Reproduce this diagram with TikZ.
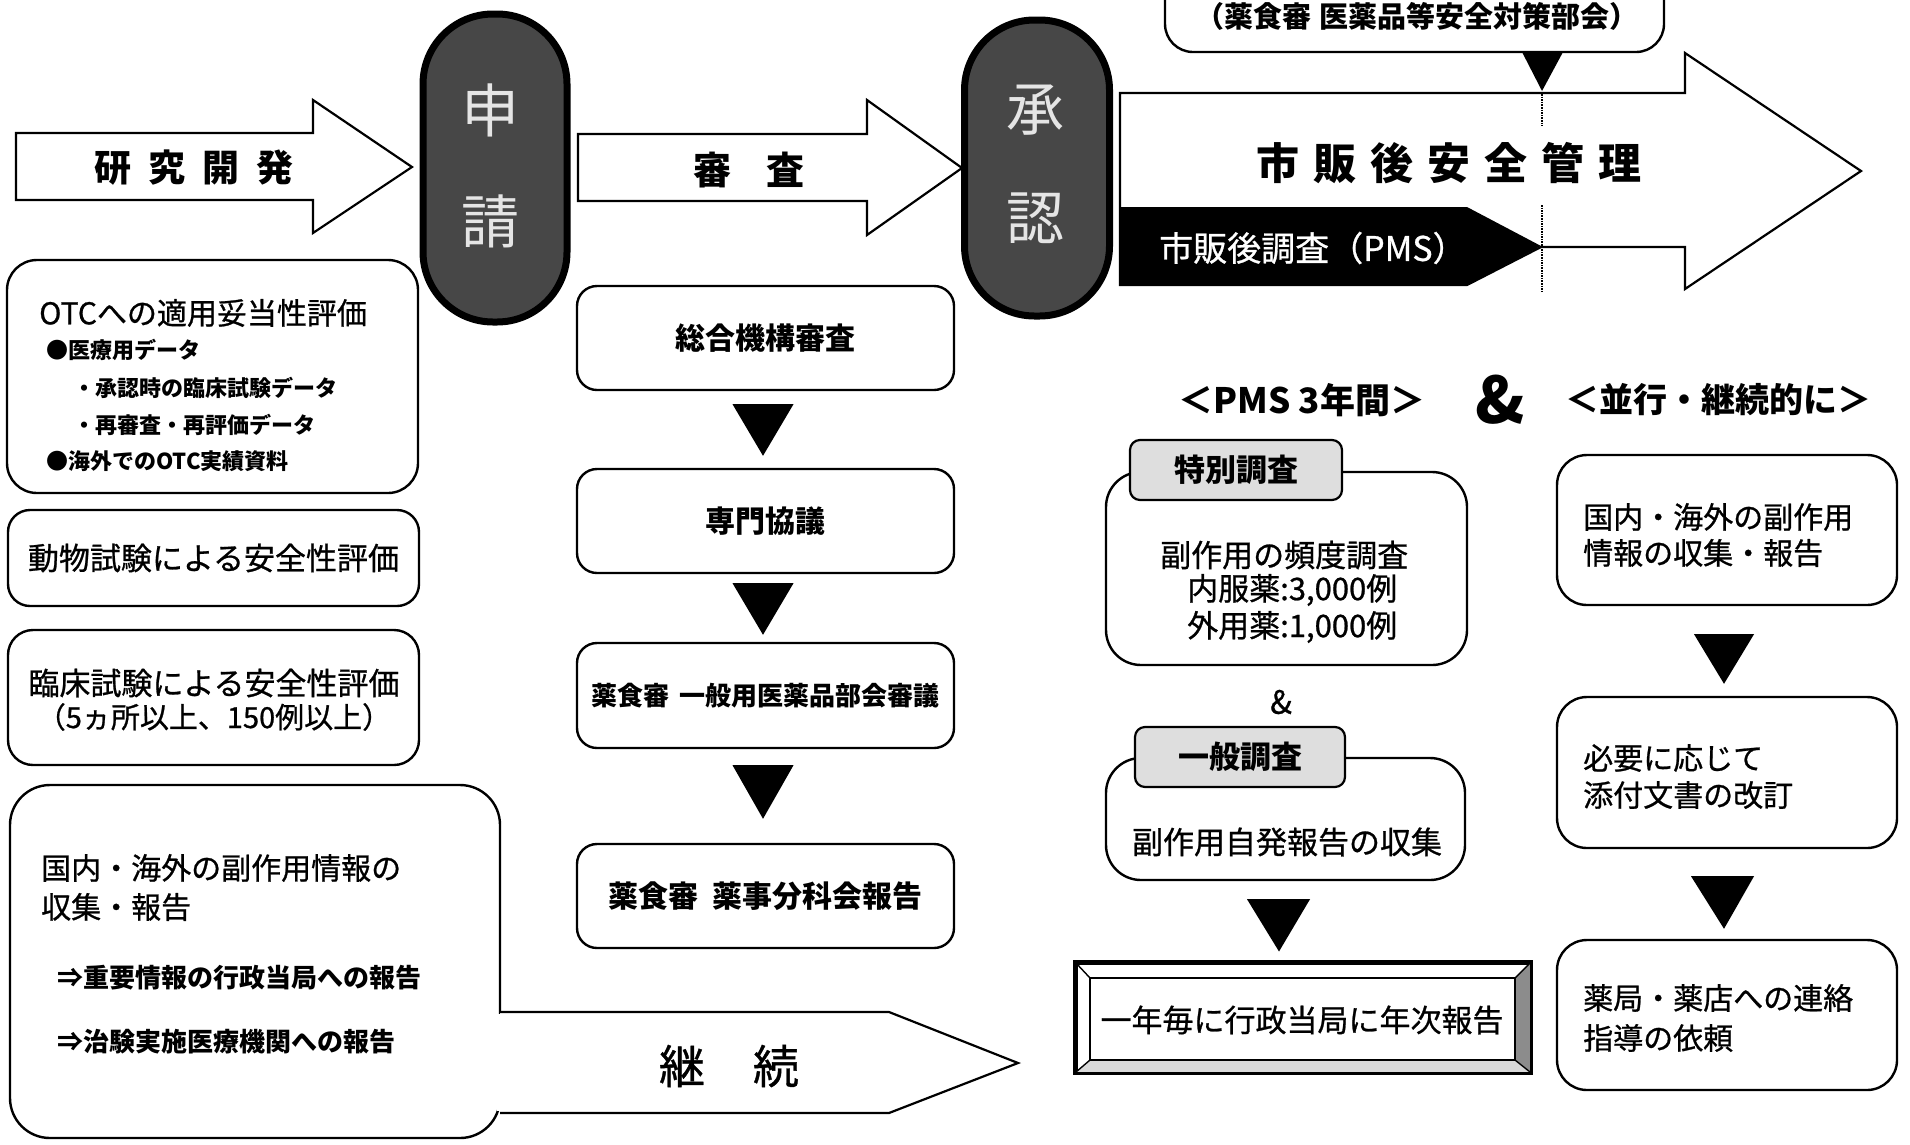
\documentclass[tikz,border=0pt]{standalone}
\usepackage{fontspec}
\setmainfont{Noto Sans CJK JP}
\usetikzlibrary{calc}
\newcommand\fsz[1]{\fontsize{#1pt}{#1pt}\selectfont}
\newcommand\medw{\addfontfeatures{FakeBold=0.8}}
\begin{document}
\begin{tikzpicture}[x=1pt,y=-1pt,
  outl/.style={draw=black,line width=2.2pt,fill=white,line join=miter},
  rbox/.style={draw=black,line width=2.4pt,fill=white,rounded corners=#1,inner sep=0pt},
  rbox/.default=20pt,
  pill/.style={draw=black,line width=7pt,fill=black!72,rounded corners=70pt,inner sep=0pt},
  pilltxt/.style={inner sep=0pt,text=black!10,font=\fsz{58}},
  tabbox/.style={draw=black,line width=2.2pt,fill=black!13,rounded corners=10pt,inner sep=0pt},
  tri/.style={fill=black},
  tx/.style={inner sep=0pt,font=\fsz{#1}\medw},
  bt/.style={inner sep=0pt,font=\bfseries\fsz{#1}},
]
\fill[white] (0,0) rectangle (1910,1144);
\useasboundingbox (0,0) rectangle (1910,1144);
\clip (0,0) rectangle (1910,1144);

% ---------- top row arrows ----------
\draw[outl] (16,133) -- (313,133) -- (313,100) -- (412,167) -- (313,233) -- (313,200) -- (16,200) -- cycle;
\node[bt=37] (kenkyu) at (194,168) {研\hspace{17pt}究\hspace{17pt}開\hspace{17pt}発};

\draw[outl] (578,134) -- (867,134) -- (867,100) -- (962,168) -- (867,235) -- (867,201) -- (578,201) -- cycle;
\node[bt=38] (shinsa) at (749,170) {審\hspace{36pt}査};

% ---------- pills ----------
\node[pill,minimum width=144pt,minimum height=308pt] (shinsei) at (495,168) {};
\node[pilltxt] (shin) at (490,110) {申};
\node[pilltxt] (sei) at (490,221) {請};
\node[pill,minimum width=145pt,minimum height=296pt] (shounin) at (1037,168) {};
\node[pilltxt] (shou) at (1035,110) {承};
\node[pilltxt] (nin) at (1035,218) {認};

% ---------- post-marketing arrow ----------
\node[rbox=28pt,minimum width=499pt,minimum height=112pt] (taisaku) at (1414.5,-4) {};
\node[bt=29] (taisakut) at (1417,16) {（薬食審\hspace{8pt}医薬品等安全対策部会）};
\draw[outl] (1120,93) -- (1685,93) -- (1685,53) -- (1861,171) -- (1685,289) -- (1685,247)
  -- (1541,247) -- (1467,285) -- (1120,285) -- cycle;
\fill (1120,207) -- (1467,207) -- (1541,246) -- (1467,285) -- (1120,285) -- cycle;
\fill[tri] (1522,52) -- (1563,52) -- (1542,91) -- cycle;
\draw[densely dotted,line width=1.6pt] (1542,94) -- (1542,126);
\draw[densely dotted,line width=1.6pt] (1542,205) -- (1542,293);
\node[bt=43] (shihango) at (1449,163) {市\hspace{14pt}販\hspace{14pt}後\hspace{14pt}安\hspace{14pt}全\hspace{14pt}管\hspace{14pt}理};
\node[tx=34,text=white,anchor=west] (pms) at (1159,248) {市販後調査（PMS）};

% ---------- left column ----------
\node[rbox=30pt,minimum width=411pt,minimum height=233pt] (otc) at (212.5,376.5) {};
\node[tx=30,anchor=west] (otc1) at (39,313) {OTCへの適用妥当性評価};
\node[bt=22,anchor=west] (otc2) at (46,350) {●医療用データ};
\node[bt=22,anchor=west] (otc3) at (73,388) {・承認時の臨床試験データ};
\node[bt=22,anchor=west] (otc4) at (73,425) {・再審査・再評価データ};
\node[bt=22,anchor=west] (otc5) at (46,461) {●海外でのOTC実績資料};

\node[rbox=22pt,minimum width=411pt,minimum height=96pt,font=\fsz{31}\medw] (animal) at (213.5,558) {動物試験による安全性評価};

\node[rbox=25pt,minimum width=411pt,minimum height=135pt] (clin) at (213.5,697.5) {};
\node[tx=31] (clin1) at (214,683) {臨床試験による安全性評価};
\node[tx=29] (clin2) at (214,717) {（5ヵ所以上、150例以上）};

\node[rbox=40pt,minimum width=490pt,minimum height=353pt] (joho) at (255,961.5) {};
\draw[outl] (500,1012) -- (889,1012) -- (1018,1063) -- (889,1113) -- (500,1113);
\fill[white] (497,1013.6) rectangle (504,1111.4);
\node[tx=30,anchor=west] (joho1) at (41,868) {国内・海外の副作用情報の};
\node[tx=30,anchor=west] (joho2) at (41,907) {収集・報告};
\node[bt=26,anchor=west] (joho3) at (57,978) {⇒重要情報の行政当局への報告};
\node[bt=26,anchor=west] (joho4) at (57,1042) {⇒治験実施医療機関への報告};
\node[tx=46] (keizoku) at (729,1066) {継\hspace{48pt}続};

% ---------- middle column ----------
\node[rbox,minimum width=377pt,minimum height=104pt,font=\bfseries\fsz{30}] (m1) at (765.5,338) {総合機構審査};
\node[rbox,minimum width=377pt,minimum height=104pt,font=\bfseries\fsz{30}] (m2) at (765.5,521) {専門協議};
\node[rbox,minimum width=377pt,minimum height=105pt,font=\bfseries\fsz{26}] (m3) at (765.5,695.5) {薬食審\hspace{10pt}一般用医薬品部会審議};
\node[rbox,minimum width=377pt,minimum height=104pt,font=\bfseries\fsz{30}] (m4) at (765.5,896) {薬食審\hspace{14pt}薬事分科会報告};
\fill[tri] ($(m1.south)+(-33,13)$) -- ++(61,0) -- ($(m2.north)+(-2.5,-12)$) -- cycle;
\fill[tri] ($(m2.south)+(-33,9)$) -- ++(61,0) -- ($(m3.north)+(-2.5,-7)$) -- cycle;
\fill[tri] ($(m3.south)+(-33,16)$) -- ++(61,0) -- ($(m4.north)+(-2.5,-24)$) -- cycle;

% ---------- right side headings ----------
\node[bt=35] (pms3) at (1302,400) {＜PMS 3年間＞};
\node[bt=64] (amp) at (1500,400) {\&};
\node[bt=34] (heikou) at (1718,400) {＜並行・継続的に＞};

% ---------- PMS column ----------
\node[rbox=35pt,minimum width=361pt,minimum height=193pt] (tokubetsu) at (1286.5,568.5) {};
\node[tabbox,minimum width=212pt,minimum height=60pt,font=\bfseries\fsz{31}] (tokutab) at (1236,470) {特別調査};
\node[tx=31,anchor=west] (toku1) at (1160,555) {副作用の頻度調査};
\node[tx=31,anchor=west] (toku2) at (1187,590) {内服薬:3,000例};
\node[tx=31,anchor=west] (toku3) at (1187,627) {外用薬:1,000例};
\node[tx=32] (amp2) at (1281,702) {\&};
\node[rbox=35pt,minimum width=359pt,minimum height=122pt] (ippan) at (1285.5,819) {};
\node[tabbox,minimum width=210pt,minimum height=60pt,font=\bfseries\fsz{31}] (ippantab) at (1240,757) {一般調査};
\node[tx=31] (ippan1) at (1287,842) {副作用自発報告の収集};

\node[draw=black,line width=3pt,fill=white,minimum width=454pt,minimum height=109pt,inner sep=0pt] (nenji) at (1303,1017.5) {};
\fill[black!45] (1530,963) -- (1530,1072) -- (1515,1060) -- (1515,978) -- cycle;
\fill[black!15] (1076,1072) -- (1530,1072) -- (1515,1060) -- (1090,1060) -- cycle;
\draw[line width=1.6pt] (1090,978) rectangle (1515,1060);
\draw[line width=1.4pt] (1076,963) -- (1090,978) (1530,963) -- (1515,978) (1076,1072) -- (1090,1060) (1530,1072) -- (1515,1060);
\draw[line width=3pt] (nenji.south west) rectangle (nenji.north east);
\node[tx=31] (nenjit) at (1302,1020) {一年毎に行政当局に年次報告};
\fill[tri] ($(ippan.south)+(-38.5,18)$) -- ++(63,0) -- ($(nenji.north)+(-24,-10)$) -- cycle;

% ---------- continuous column ----------
\node[rbox=30pt,minimum width=340pt,minimum height=150pt] (r1) at (1727,530) {};
\node[tx=30,anchor=west] (r1a) at (1583,517) {国内・海外の副作用};
\node[tx=30,anchor=west] (r1b) at (1583,553) {情報の収集・報告};
\node[rbox=30pt,minimum width=340pt,minimum height=151pt] (r2) at (1727,772.5) {};
\node[tx=30,anchor=west] (r2a) at (1583,758) {必要に応じて};
\node[tx=30,anchor=west] (r2b) at (1583,795) {添付文書の改訂};
\node[rbox=30pt,minimum width=340pt,minimum height=150pt] (r3) at (1727,1015) {};
\node[tx=30,anchor=west] (r3a) at (1583,998) {薬局・薬店への連絡};
\node[tx=30,anchor=west] (r3b) at (1583,1038) {指導の依頼};
\fill[tri] ($(r1.south)+(-33,28)$) -- ++(60,0) -- ($(r2.north)+(-3,-12)$) -- cycle;
\fill[tri] ($(r2.south)+(-36,27)$) -- ++(63,0) -- ($(r3.north)+(-3,-10)$) -- cycle;
\end{tikzpicture}
\end{document}
